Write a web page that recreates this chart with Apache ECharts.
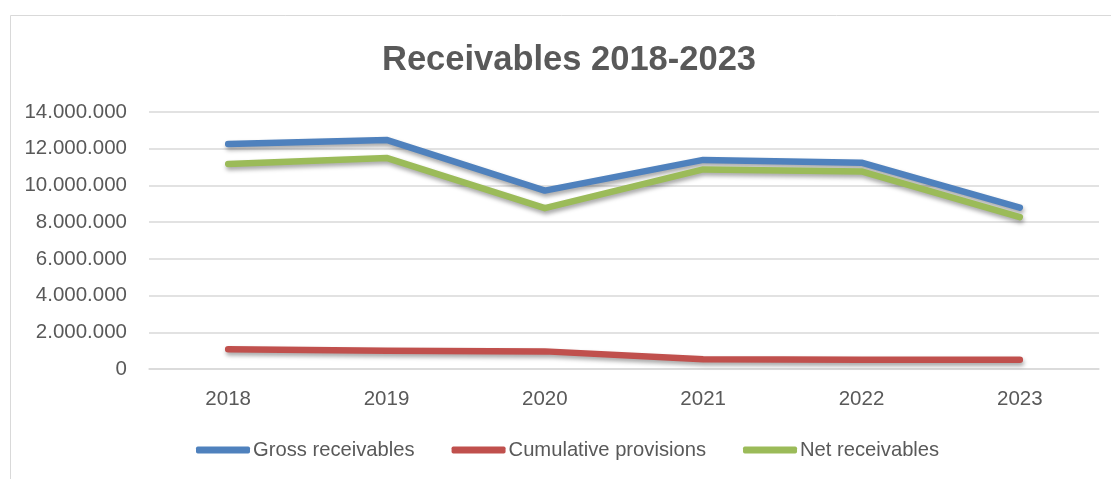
<!DOCTYPE html>
<html>
<head>
<meta charset="utf-8">
<script src="https://cdn.jsdelivr.net/npm/echarts@6/dist/echarts.min.js"></script>
<style>
html,body{margin:0;padding:0;background:#fff;}
#chart{width:1111px;height:479px;}
</style>
</head>
<body>
<div id="chart"></div>
<script>
const titleText = 'Receivables 2018-2023';
const categories = ['2018', '2019', '2020', '2021', '2022', '2023'];
const seriesNames = ['Gross receivables', 'Cumulative provisions', 'Net receivables'];
const grossReceivables = [12260000, 12480000, 9720000, 11390000, 11240000, 8790000];
const cumulativeProvisions = [1070000, 1000000, 960000, 530000, 510000, 510000];
const netReceivables = [11170000, 11500000, 8760000, 10870000, 10760000, 8270000];
const colors = ['#4F81BD', '#C0504D', '#9BBB59'];

const font = '"Liberation Sans", Arial, sans-serif';
function fmt(v) {
  return String(Math.round(v)).replace(/\B(?=(\d{3})+(?!\d))/g, '.');
}
const chart = echarts.init(document.getElementById('chart'));
const dataSets = [grossReceivables, cumulativeProvisions, netReceivables];
chart.setOption({
  animation: false,
  color: colors,
  graphic: [{
    type: 'rect', left: 8, top: 13, silent: true,
    shape: { width: 1200, height: 1000 },
    style: { fill: 'none', stroke: '#d9d9d9', lineWidth: 1 }
  }],
  title: {
    text: titleText, left: 377, top: 38,
    textStyle: { fontFamily: font, fontSize: 34.5, fontWeight: 'bold', color: '#595959' }
  },
  legend: {
    bottom: 14, left: 191,
    itemWidth: 54, itemHeight: 7, itemGap: 37,
    icon: 'roundRect',
    textStyle: { fontFamily: font, fontSize: 20.2, color: '#595959', padding: [0, 0, 0, -2] },
    data: seriesNames
  },
  grid: { left: 149, right: 12, top: 112, bottom: 110, containLabel: false },
  xAxis: {
    type: 'category', data: categories, boundaryGap: true,
    axisLine: { show: true, lineStyle: { color: '#d9d9d9', width: 1.5 } },
    axisTick: { show: false },
    axisLabel: { fontFamily: font, fontSize: 20.5, color: '#595959', margin: 20 }
  },
  yAxis: {
    type: 'value', min: 0, max: 14000000, interval: 2000000,
    axisLine: { show: false }, axisTick: { show: false },
    splitLine: { lineStyle: { color: '#d9d9d9', width: 1.5 } },
    axisLabel: { fontFamily: font, fontSize: 20.5, color: '#595959', margin: 22, formatter: fmt }
  },
  series: seriesNames.map((name, i) => ({
    name: name, type: 'line', data: dataSets[i],
    symbol: 'none', smooth: false,
    lineStyle: {
      width: 6.5, cap: 'round', join: 'round', color: colors[i],
      shadowColor: 'rgba(0,0,0,0.35)', shadowBlur: 4, shadowOffsetX: 1, shadowOffsetY: 3
    },
    itemStyle: { color: colors[i] }
  }))
});
</script>
</body>
</html>
